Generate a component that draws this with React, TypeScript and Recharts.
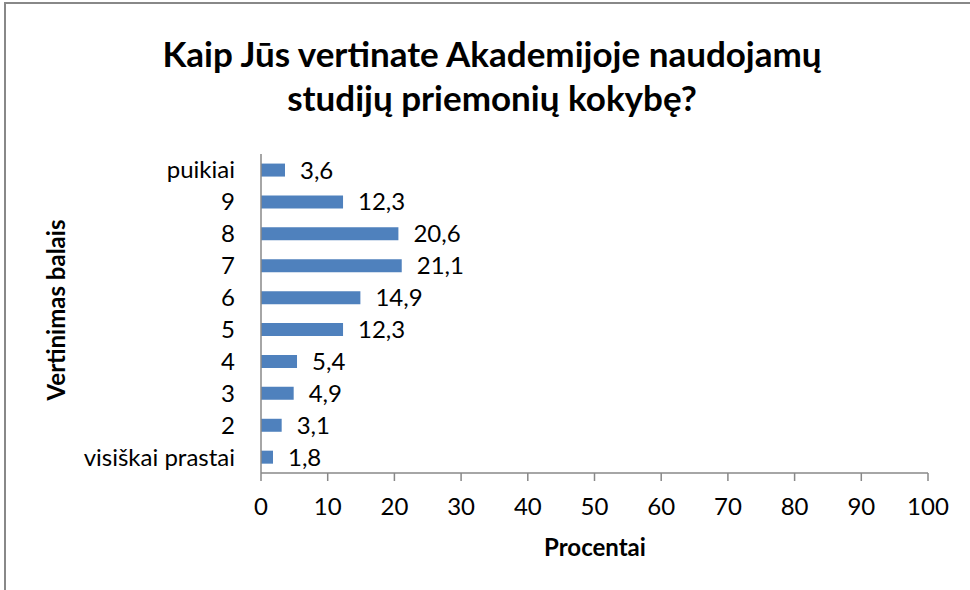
import React from 'react';
import { BarChart, Bar, XAxis, YAxis, LabelList } from 'recharts';

const categories = ['puikiai', '9', '8', '7', '6', '5', '4', '3', '2', 'visiškai prastai'];
const values = [3.6, 12.3, 20.6, 21.1, 14.9, 12.3, 5.4, 4.9, 3.1, 1.8];
const xTicks = [0, 10, 20, 30, 40, 50, 60, 70, 80, 90, 100];
const titleLines = ['Kaip Jūs vertinate Akademijoje naudojamų', 'studijų priemonių kokybę?'];
const xTitle = 'Procentai';
const yTitle = 'Vertinimas balais';

const data = categories.map((c, i) => ({ name: c, value: values[i] }));

const FONT = 'Lato, "Open Sans", sans-serif';
const AXIS = '#888888';

const XTick = (props: any) => {
  const { x, y, payload } = props;
  return (
    <text x={x} y={y} dy={34} textAnchor="middle" fontSize={24} fontFamily={FONT} fill="#000">
      {payload.value}
    </text>
  );
};

const YTick = (props: any) => {
  const { x, y, payload } = props;
  return (
    <text x={x - 26} y={y} dy={8.5} textAnchor="end" fontSize={24} fontFamily={FONT} fill="#000">
      {payload.value}
    </text>
  );
};

export default function App() {
  return (
    <div style={{ position: 'absolute', left: 0, top: 0, width: 970, height: 590, background: '#fff' }}>
      <div style={{ position: 'absolute', left: 4, top: 2, width: 966, height: 2, background: AXIS }} />
      <div style={{ position: 'absolute', left: 4, top: 2, width: 2, height: 588, background: AXIS }} />
      <BarChart
        width={970}
        height={590}
        data={data}
        layout="vertical"
        margin={{ top: 154, right: 42, bottom: 57, left: 0 }}
        barCategoryGap="30%"
      >
        <XAxis
          type="number"
          domain={[0, 100]}
          ticks={xTicks}
          interval={0}
          height={60}
          tickSize={8}
          tickMargin={0}
          axisLine={{ stroke: AXIS, strokeWidth: 1.5 }}
          tickLine={{ stroke: AXIS, strokeWidth: 1.5 }}
          tick={<XTick />}
        />
        <YAxis
          type="category"
          dataKey="name"
          width={261}
          tickSize={0}
          tickMargin={0}
          interval={0}
          axisLine={{ stroke: AXIS, strokeWidth: 1.5 }}
          tickLine={false}
          tick={<YTick />}
        />
        <Bar dataKey="value" fill="#4F81BD" isAnimationActive={false}>
          <LabelList
            dataKey="value"
            position="right"
            offset={15}
            fontSize={24}
            fontFamily={FONT}
            fill="#000"
            formatter={(v: any) => String(v).replace('.', ',')}
          />
        </Bar>
      </BarChart>
      <svg
        width={970}
        height={590}
        style={{ position: 'absolute', left: 0, top: 0, pointerEvents: 'none' }}
      >
        {titleLines.map((t, i) => (
          <text
            key={i}
            x={492}
            y={67 + i * 43.5}
            textAnchor="middle"
            fontSize={35}
            fontWeight={700}
            fontFamily={FONT}
            fill="#000"
          >
            {t}
          </text>
        ))}
        <text x={595} y={556} textAnchor="middle" fontSize={24} fontWeight={700} fontFamily={FONT} fill="#000">
          {xTitle}
        </text>
        <text
          x={0}
          y={0}
          transform="translate(65,310) rotate(-90)"
          textAnchor="middle"
          fontSize={24}
          fontWeight={700}
          fontFamily={FONT}
          fill="#000"
        >
          {yTitle}
        </text>
      </svg>
    </div>
  );
}
